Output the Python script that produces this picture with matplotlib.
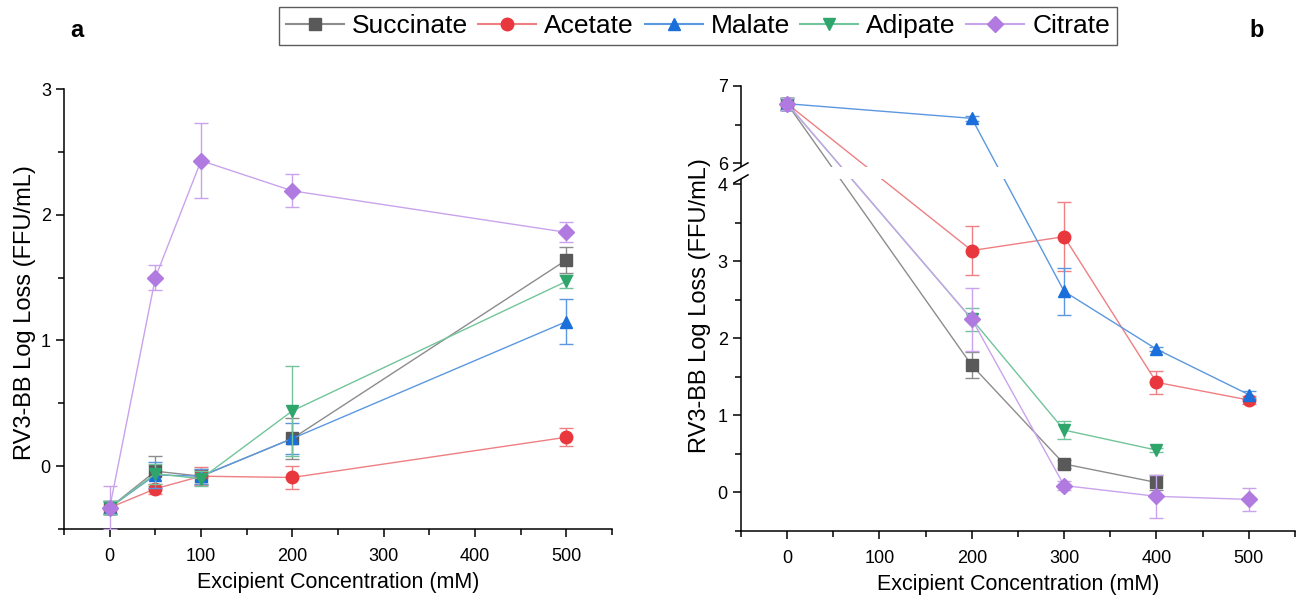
import matplotlib
matplotlib.use('Agg')
import numpy as np
import matplotlib.pyplot as plt
from matplotlib.lines import Line2D
from matplotlib.patches import Rectangle
from matplotlib.ticker import MultipleLocator, FixedLocator

plt.rcParams['font.family'] = ['Liberation Sans', 'DejaVu Sans']

names = ['Succinate', 'Acetate', 'Malate', 'Adipate', 'Citrate']
markers = ['s', 'o', '^', 'v', 'D']
mcolors = ['#595959', '#e8383d', '#1a6fdb', '#2ea56a', '#b07ae0']
lcolors = ['#8c8c8c', '#ee7f82', '#5b98e0', '#72c49a', '#c9a3ec']
msizes = [8, 9, 9, 9, 8]

# panel a
conc_a = [0, 50, 100, 200, 500]
vals_a = [
    [-0.33, -0.04, -0.08, 0.22, 1.64],
    [-0.33, -0.18, -0.08, -0.09, 0.23],
    [-0.33, -0.07, -0.08, 0.22, 1.15],
    [-0.33, -0.06, -0.10, 0.44, 1.47],
    [-0.33, 1.50, 2.43, 2.19, 1.86],
]
errs_a = [
    [0.05, 0.12, 0.06, 0.16, 0.10],
    [0.05, 0.04, 0.07, 0.09, 0.07],
    [0.05, 0.10, 0.06, 0.12, 0.18],
    [0.05, 0.08, 0.06, 0.36, 0.05],
    [0.17, 0.10, 0.30, 0.13, 0.08],
]

# panel b
conc_b = [
    [0, 200, 300, 400],
    [0, 200, 300, 400, 500],
    [0, 200, 300, 400, 500],
    [0, 200, 300, 400],
    [0, 200, 300, 400, 500],
]
vals_b = [
    [6.77, 1.65, 0.37, 0.13],
    [6.77, 3.14, 3.32, 1.43, 1.20],
    [6.77, 6.58, 2.61, 1.86, 1.27],
    [6.77, 2.25, 0.81, 0.55],
    [6.77, 2.25, 0.09, -0.05, -0.09],
]
errs_b = [
    [0.08, 0.17, 0.05, 0.10],
    [0.08, 0.32, 0.45, 0.15, 0.05],
    [0.08, 0.03, 0.30, 0.03, 0.05],
    [0.08, 0.15, 0.12, 0.03],
    [0.08, 0.41, 0.06, 0.28, 0.15],
]

# broken y axis of panel b: 4.07..5.95 squeezed into a small gap
B0, B1, GAP = 4.07, 5.95, 0.156


def fwd(y):
    y = np.asarray(y, dtype=float)
    mid = B0 + (y - B0) * GAP / (B1 - B0)
    return np.where(y <= B0, y, np.where(y >= B1, y - (B1 - B0) + GAP, mid))


def inv(z):
    z = np.asarray(z, dtype=float)
    mid = B0 + (z - B0) * (B1 - B0) / GAP
    return np.where(z <= B0, z, np.where(z >= B0 + GAP, z + (B1 - B0) - GAP, mid))


fig = plt.figure(figsize=(13.02, 6.03), dpi=100)
ax_a = fig.add_axes([0.0492, 0.1227, 0.4209, 0.7297])
ax_b = fig.add_axes([0.5691, 0.1194, 0.4255, 0.7380])


def style(ax):
    for s in ['top', 'right']:
        ax.spines[s].set_visible(False)
    for s in ['left', 'bottom']:
        ax.spines[s].set_linewidth(1.1)
    ax.xaxis.set_major_locator(MultipleLocator(100))
    ax.xaxis.set_minor_locator(MultipleLocator(50))
    ax.tick_params(which='major', length=6, width=1.1, labelsize=13)
    ax.tick_params(which='minor', length=4, width=1.1)
    ax.tick_params(axis='x', pad=8)


def draw(ax, xs, ys, es, i):
    ax.errorbar(xs, ys, yerr=es, color=lcolors[i], lw=1, elinewidth=1,
                capsize=5, capthick=1, marker=markers[i], ms=msizes[i],
                mfc=mcolors[i], mec=mcolors[i], zorder=3 + i)


for i in range(5):
    draw(ax_a, conc_a, vals_a[i], errs_a[i], i)
    draw(ax_b, conc_b[i], vals_b[i], errs_b[i], i)

style(ax_a)
ax_a.set_xlim(-50, 550)
ax_a.set_ylim(-0.5, 3.0)
ax_a.yaxis.set_major_locator(MultipleLocator(1))
ax_a.yaxis.set_minor_locator(MultipleLocator(0.5))

style(ax_b)
ax_b.set_yscale('function', functions=(fwd, inv))
ax_b.set_xlim(-50, 550)
ax_b.set_ylim(-0.5, 7.0)
ax_b.yaxis.set_major_locator(FixedLocator([0, 1, 2, 3, 4, 6, 7]))
ax_b.yaxis.set_minor_locator(FixedLocator([-0.5, 0.5, 1.5, 2.5, 3.5, 6.5]))
ax_b.yaxis.set_major_formatter(plt.FormatStrFormatter('%d'))
ax_b.yaxis.set_minor_formatter(plt.NullFormatter())

# white band over the break, then the two slashes across the spine
ax_b.add_patch(Rectangle((-0.004, B0), 1.03, B1 - B0, facecolor='white',
                         edgecolor='none', zorder=20, clip_on=False,
                         transform=ax_b.get_yaxis_transform()))
for yb in [B0, B1]:
    p0 = ax_b.transData.transform((-50, yb))
    pts = np.array([p0 + [-7, -4], p0 + [7, 4]])
    pts = fig.transFigure.inverted().transform(pts)
    fig.add_artist(Line2D(pts[:, 0], pts[:, 1], color='black', lw=1.1,
                          zorder=30))

for ax in [ax_a, ax_b]:
    ax.set_xlabel('Excipient Concentration (mM)', fontsize=15.5, labelpad=5)

fig.text(0.019, 0.481, 'RV3-BB Log Loss (FFU/mL)', rotation=90,
         fontsize=17, ha='center', va='center')
fig.text(0.5375, 0.494, 'RV3-BB Log Loss (FFU/mL)', rotation=90,
         fontsize=17, ha='center', va='center')

fig.text(0.059, 0.95, 'a', fontsize=17, fontweight='bold', ha='center', va='center')
fig.text(0.9655, 0.95, 'b', fontsize=17, fontweight='bold', ha='center', va='center')

handles = [Line2D([], [], color=lcolors[i], lw=1.5, marker=markers[i],
                  ms=msizes[i], mfc=mcolors[i], mec=mcolors[i])
           for i in range(5)]
leg = fig.legend(handles, names, loc='center', bbox_to_anchor=(0.536, 0.957),
                 ncol=5, fontsize=19, frameon=True, fancybox=False,
                 handlelength=2.2, handletextpad=0.3, columnspacing=0.4,
                 borderpad=0.25)
leg.get_frame().set_edgecolor('#333333')
leg.get_frame().set_linewidth(1.0)

fig.savefig('out.png', dpi=100)
